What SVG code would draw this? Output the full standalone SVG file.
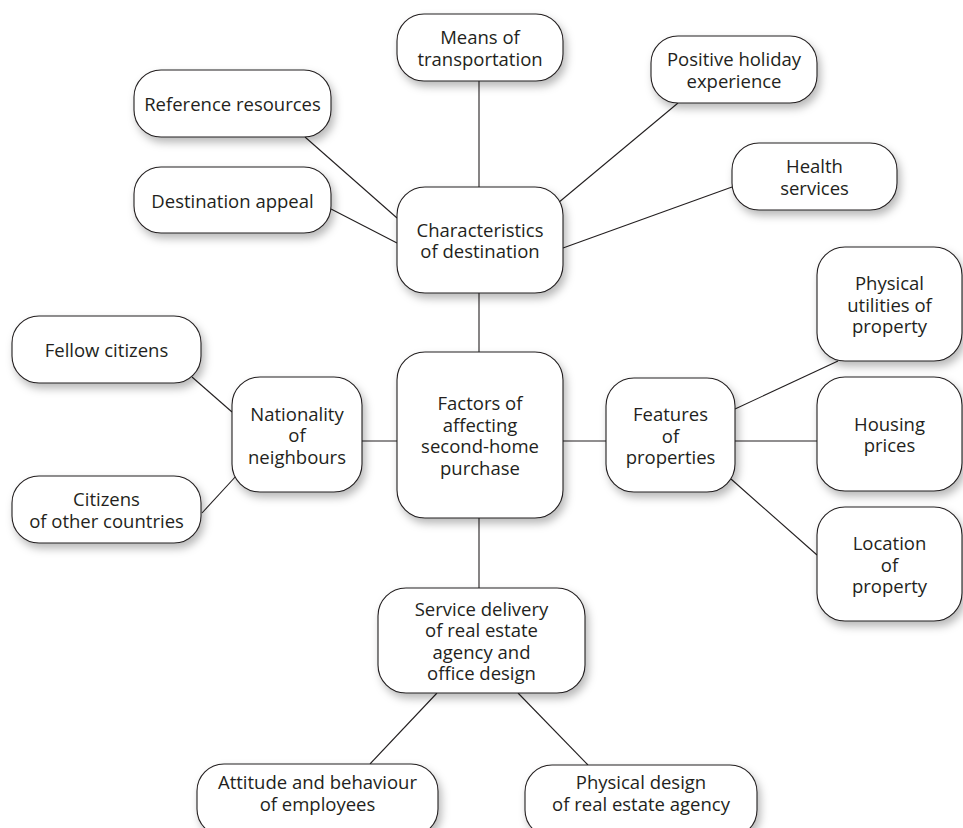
<svg xmlns="http://www.w3.org/2000/svg" width="963" height="828" viewBox="0 0 963 828">
<defs>
<filter id="sh" x="-20%" y="-20%" width="150%" height="160%">
<feDropShadow dx="3" dy="5" stdDeviation="4" flood-color="#000" flood-opacity="0.28"/>
</filter>
</defs>
<style>
.box{fill:#fff;stroke:#231f20;stroke-width:1.1;filter:url(#sh)}
.lbl{font-family:"Open Sans","Noto Sans","Liberation Sans",sans-serif;font-size:18.5px;fill:#231f20;text-anchor:middle}
.con line{stroke:#231f20;stroke-width:1.1}
</style>
<rect width="963" height="828" fill="#fff"/>
<g id="connectors" class="con">
<line x1="479" y1="81" x2="479" y2="187"/>
<line x1="305" y1="137" x2="397" y2="218"/>
<line x1="331" y1="209" x2="397" y2="243"/>
<line x1="678" y1="103" x2="558" y2="203"/>
<line x1="732" y1="187" x2="563" y2="248"/>
<line x1="479" y1="293" x2="479" y2="352"/>
<line x1="192" y1="377" x2="232" y2="412"/>
<line x1="202" y1="513" x2="237" y2="475"/>
<line x1="362" y1="441" x2="397" y2="441"/>
<line x1="563" y1="441" x2="606" y2="441"/>
<line x1="735" y1="409" x2="838" y2="361"/>
<line x1="735" y1="441" x2="817" y2="441"/>
<line x1="731" y1="479" x2="817" y2="555"/>
<line x1="479" y1="518" x2="479" y2="588"/>
<line x1="437" y1="693" x2="370" y2="764"/>
<line x1="518" y1="693" x2="588" y2="765"/>
</g>
<g id="means"><rect class="box" x="397" y="14" width="166" height="67" rx="27"/><text class="lbl"><tspan x="480" y="44.25">Means of</tspan><tspan x="480" y="65.75">transportation</tspan></text></g>
<g id="reference"><rect class="box" x="134" y="70" width="197" height="67" rx="27"/><text class="lbl"><tspan x="232.5" y="111">Reference resources</tspan></text></g>
<g id="positive"><rect class="box" x="651" y="36" width="166" height="67" rx="27"/><text class="lbl"><tspan x="734" y="66.25">Positive holiday</tspan><tspan x="734" y="87.75">experience</tspan></text></g>
<g id="destination"><rect class="box" x="134" y="167" width="197" height="66" rx="27"/><text class="lbl"><tspan x="232.5" y="207.5">Destination appeal</tspan></text></g>
<g id="health"><rect class="box" x="732" y="143" width="165" height="67" rx="27"/><text class="lbl"><tspan x="814.5" y="173.25">Health</tspan><tspan x="814.5" y="194.75">services</tspan></text></g>
<g id="characteristics"><rect class="box" x="397" y="187" width="166" height="106" rx="28"/><text class="lbl"><tspan x="480" y="236.75">Characteristics</tspan><tspan x="480" y="258.25">of destination</tspan></text></g>
<g id="physical-utilities"><rect class="box" x="817" y="247" width="145" height="114" rx="28"/><text class="lbl"><tspan x="889.5" y="290">Physical</tspan><tspan x="889.5" y="311.5">utilities of</tspan><tspan x="889.5" y="333">property</tspan></text></g>
<g id="fellow"><rect class="box" x="12" y="316" width="189" height="67" rx="27"/><text class="lbl"><tspan x="106.5" y="357">Fellow citizens</tspan></text></g>
<g id="factors"><rect class="box" x="397" y="352" width="166" height="166" rx="28"/><text class="lbl"><tspan x="480" y="410.25">Factors of</tspan><tspan x="480" y="431.75">affecting</tspan><tspan x="480" y="453.25">second-home</tspan><tspan x="480" y="474.75">purchase</tspan></text></g>
<g id="nationality"><rect class="box" x="232" y="377" width="130" height="115" rx="28"/><text class="lbl"><tspan x="297" y="420.5">Nationality</tspan><tspan x="297" y="442">of</tspan><tspan x="297" y="463.5">neighbours</tspan></text></g>
<g id="features"><rect class="box" x="606" y="378" width="129" height="114" rx="28"/><text class="lbl"><tspan x="670.5" y="421">Features</tspan><tspan x="670.5" y="442.5">of</tspan><tspan x="670.5" y="464">properties</tspan></text></g>
<g id="housing"><rect class="box" x="817" y="377" width="145" height="114" rx="28"/><text class="lbl"><tspan x="889.5" y="430.75">Housing</tspan><tspan x="889.5" y="452.25">prices</tspan></text></g>
<g id="citizens"><rect class="box" x="12" y="476" width="189" height="67" rx="27"/><text class="lbl"><tspan x="106.5" y="506.25">Citizens</tspan><tspan x="106.5" y="527.75">of other countries</tspan></text></g>
<g id="location"><rect class="box" x="817" y="507" width="145" height="114" rx="28"/><text class="lbl"><tspan x="889.5" y="550">Location</tspan><tspan x="889.5" y="571.5">of</tspan><tspan x="889.5" y="593">property</tspan></text></g>
<g id="service"><rect class="box" x="378" y="588" width="207" height="105" rx="28"/><text class="lbl"><tspan x="481.5" y="615.75">Service delivery</tspan><tspan x="481.5" y="637.25">of real estate</tspan><tspan x="481.5" y="658.75">agency and</tspan><tspan x="481.5" y="680.25">office design</tspan></text></g>
<g id="attitude"><rect class="box" x="197" y="764" width="241" height="72" rx="27"/><text class="lbl"><tspan x="317.5" y="789">Attitude and behaviour</tspan><tspan x="317.5" y="810.5">of employees</tspan></text></g>
<g id="physical-design"><rect class="box" x="525" y="765" width="232" height="72" rx="27"/><text class="lbl"><tspan x="641" y="789">Physical design</tspan><tspan x="641" y="810.5">of real estate agency</tspan></text></g>
</svg>
